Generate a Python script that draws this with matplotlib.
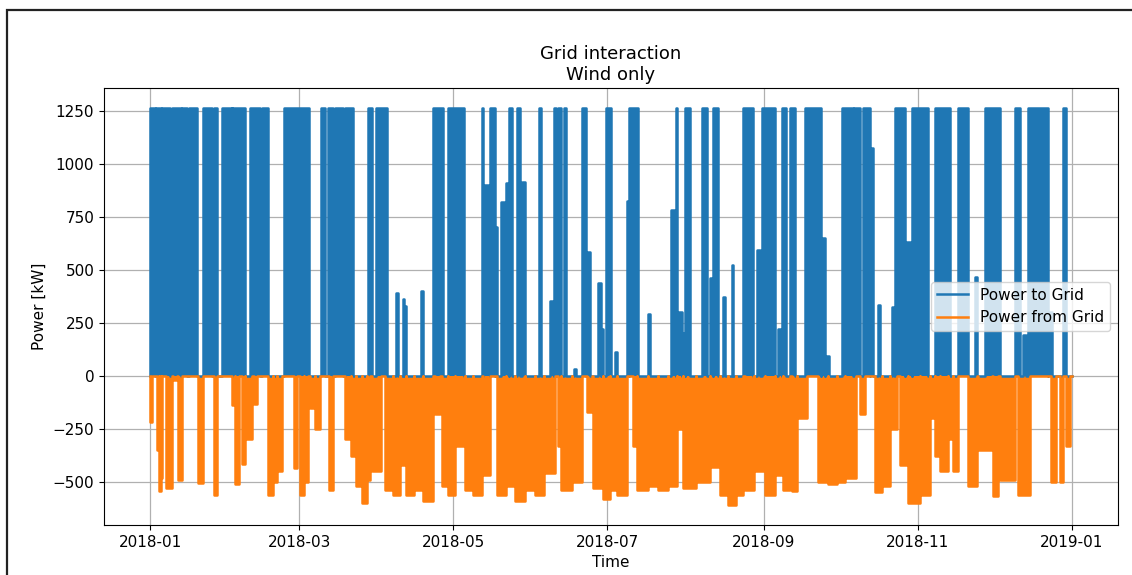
import numpy as np
import pandas as pd
import matplotlib
matplotlib.use("Agg")
import matplotlib.pyplot as plt
import matplotlib.dates as mdates
from matplotlib.patches import Rectangle

# blocks: start day, end day (days since 2018-01-01), level in kW
to_grid_start = [0, 2.2, 4.8, 8.8, 12.8, 15.2, 21.1, 25.1, 28.4, 32.6, 39.6, 44.2, 53.2,
                 67.6, 70.3, 73.2, 77.2, 86.4, 89.5, 97.4, 100.0, 100.9, 107.4, 112.1, 118.0,
                 131.3, 132.0, 134.6, 136.6, 138.8, 141.0, 142.2, 145.1, 147.1, 153.9,
                 158.5, 160.0, 160.6, 161.6, 164.0, 168.0, 170.9, 172.6, 177.2, 178.5, 180.4,
                 184.1, 188.7, 189.6, 197.3, 206.3, 208.3, 208.8, 210.5, 211.8, 218.4,
                 221.7, 222.8, 227.0, 230.3, 234.9, 240.2, 242.1,
                 248.8, 250.1, 253.4, 259.3, 265.5, 267.2, 274.1, 278.9, 282.4, 285.0,
                 288.4, 293.6, 294.9, 299.0, 301.5,
                 310.7, 320.0, 326.6, 330.6, 342.4, 345.7, 347.7, 355.5, 361.5]
to_grid_end = [1.8, 4.3, 7.9, 12.3, 14.5, 18.5, 24.4, 26.4, 32.3, 37.6, 43.5, 46.8, 63.0,
               69.3, 72.6, 76.5, 80.5, 87.7, 93.7, 98.0, 100.5, 101.4, 108.0, 116.1, 124.1,
               132.0, 134.6, 136.6, 137.3, 141.0, 142.2, 143.2, 146.5, 148.4, 154.8,
               160.0, 160.6, 161.6, 162.7, 164.5, 168.5, 172.6, 174.2, 178.5, 179.2, 182.4,
               185.0, 189.6, 193.0, 197.9, 208.3, 208.8, 210.5, 211.8, 213.8, 220.4,
               222.8, 225.0, 227.6, 231.0, 238.8, 241.5, 247.4,
               250.1, 251.7, 255.4, 265.5, 267.2, 269.0, 278.5, 281.1, 285.0, 286.4,
               289.2, 294.6, 299.0, 301.5, 308.1,
               316.7, 324.0, 327.3, 336.5, 344.4, 347.0, 355.5, 357.0, 362.8]
to_grid_kw = [1263, 1263, 1263, 1263, 1263, 1263, 1263, 1263, 1263, 1263, 1263, 1263, 1263,
              1263, 1263, 1263, 1263, 1263, 1263, 388, 360, 330, 400, 1263, 1263,
              1263, 900, 1263, 700, 820, 910, 1263, 1263, 915, 1263,
              350, 1263, 380, 1263, 1263, 30, 1263, 584, 435, 222, 1263,
              110, 825, 1263, 293, 780, 1263, 300, 200, 1263, 1263,
              459, 1263, 371, 521, 1263, 592, 1263,
              220, 1263, 1263, 1263, 650, 95, 1263, 1263, 1263, 1075,
              335, 323, 1263, 630, 1263,
              1263, 1263, 465, 1263, 1263, 190, 1263, 300, 1263]

from_grid_start = [0, 2.6, 3.5, 4.2, 6.2, 9.2, 11.2, 19.1, 25.1, 32.3, 33.5, 36.3, 37.6,
                   41.3, 46.8, 48.5, 50.1, 57.1,
                   59.4, 61.0, 63.3, 65.3, 70.9, 77.2, 79.5, 81.5, 84.0, 86.0, 87.7, 93.0,
                   96.0, 98.9, 101.5, 104.3, 108.0, 112.8, 115.5, 118.0,
                   120.7, 124.7, 128.0, 131.9, 137.3, 141.0, 144.5, 148.5, 152.4, 156.0,
                   161.5, 162.8, 167.0, 172.9, 175.5, 179.5,
                   182.1, 185.0, 191.4, 192.7, 197.0, 201.0, 205.0, 208.5, 211.1, 216.0,
                   221.7, 225.6, 229.0, 232.0, 235.5, 239.0,
                   243.5, 247.4, 250.5, 254.1, 256.0, 264.6, 268.5, 272.0, 275.1, 281.1,
                   287.1, 290.0, 293.0, 297.0, 300.2,
                   304.8, 308.8, 310.7, 312.7, 316.0, 318.0, 324.0, 328.0, 333.8, 336.5,
                   343.7, 356.9, 360.2, 362.8]
from_grid_end = [0.8, 3.5, 4.2, 4.9, 8.8, 10.6, 12.5, 21.1, 26.4, 33.5, 35.0, 37.6, 40.2,
                 42.2, 48.5, 50.1, 52.1, 58.0,
                 61.0, 62.7, 65.3, 67.3, 72.6, 79.5, 81.5, 84.0, 86.0, 87.0, 91.6, 96.0,
                 98.9, 101.5, 104.3, 108.0, 112.1, 114.8, 118.0, 120.7,
                 124.7, 128.0, 131.3, 134.6, 141.0, 144.5, 148.5, 152.4, 156.0, 160.2,
                 162.8, 167.0, 170.9, 174.9, 179.5, 182.1,
                 185.0, 188.7, 192.7, 197.0, 201.0, 205.0, 208.5, 211.1, 216.0, 221.7,
                 225.6, 229.0, 232.0, 234.9, 239.0, 243.4,
                 247.4, 250.5, 253.4, 256.0, 260.0, 268.5, 272.0, 275.1, 279.7, 283.0,
                 290.0, 293.0, 295.6, 300.2, 304.8,
                 308.8, 310.7, 312.7, 316.0, 318.0, 320.0, 327.3, 333.2, 335.8, 342.4,
                 348.3, 358.9, 361.5, 364.1]
from_grid_kw = [-220, -350, -545, -480, -530, -20, -490, -506, -560, -140, -510, -415, -300,
                -135, -560, -500, -450, -435,
                -560, -500, -150, -250, -540, -300, -380, -520, -600, -490, -450, -540,
                -560, -420, -560, -540, -590, -180, -520, -560,
                -330, -540, -560, -470, -560, -520, -590, -540, -560, -460,
                -330, -540, -500, -170, -530, -580,
                -540, -560, -330, -540, -520, -540, -520, -250, -530, -500,
                -430, -560, -610, -560, -540, -450,
                -560, -470, -540, -545, -200, -500, -510, -500, -480, -180,
                -550, -520, -250, -420, -600,
                -560, -200, -380, -450, -300, -450, -520, -350, -565, -490,
                -560, -500, -500, -330]


def step_series(starts, ends, levels):
    t = [0.0]
    v = [0.0]
    for s, e, k in sorted(zip(starts, ends, levels)):
        t += [s, s, e, e]
        v += [0, k, k, 0]
    t.append(365.0)
    v.append(0.0)
    t = pd.Timestamp("2018-01-01") + pd.to_timedelta(np.array(t), unit="D")
    return t, np.array(v, dtype=float)


t_to, v_to = step_series(to_grid_start, to_grid_end, to_grid_kw)
t_from, v_from = step_series(from_grid_start, from_grid_end, from_grid_kw)

blue = "#1f77b4"
orange = "#ff7f0e"

fig = plt.figure(figsize=(11.32, 5.75), dpi=100)
ax = fig.add_axes([0.0919, 0.087, 0.8957, 0.76])
ax.set_axisbelow(True)

ax.plot(t_to, v_to, color=blue, lw=1.8, label="Power to Grid")
ax.fill_between(t_to, v_to, 0, color=blue, lw=0)
ax.plot(t_from, v_from, color=orange, lw=1.8, label="Power from Grid")
ax.fill_between(t_from, v_from, 0, color=orange, lw=0)

ax.xaxis.set_major_locator(mdates.MonthLocator(bymonth=[1, 3, 5, 7, 9, 11]))
ax.xaxis.set_major_formatter(mdates.DateFormatter("%Y-%m"))
ax.set_yticks([-500, -250, 0, 250, 500, 750, 1000, 1250])
ax.grid(True, color="#b0b0b0", lw=0.9)
ax.tick_params(labelsize=11)

ax.set_title("Grid interaction\nWind only", fontsize=13)
ax.set_xlabel("Time", fontsize=11)
ax.set_ylabel("Power [kW]", fontsize=11)
ax.legend(loc="center right", fontsize=11)

# document frame around the figure
fig.patches.append(Rectangle((7 / 1132, -0.05), 1.0, 1.05 - 10 / 575,
                             transform=fig.transFigure, fill=False,
                             lw=1.6, ec="#222222"))

fig.savefig("out.png", dpi=100)
